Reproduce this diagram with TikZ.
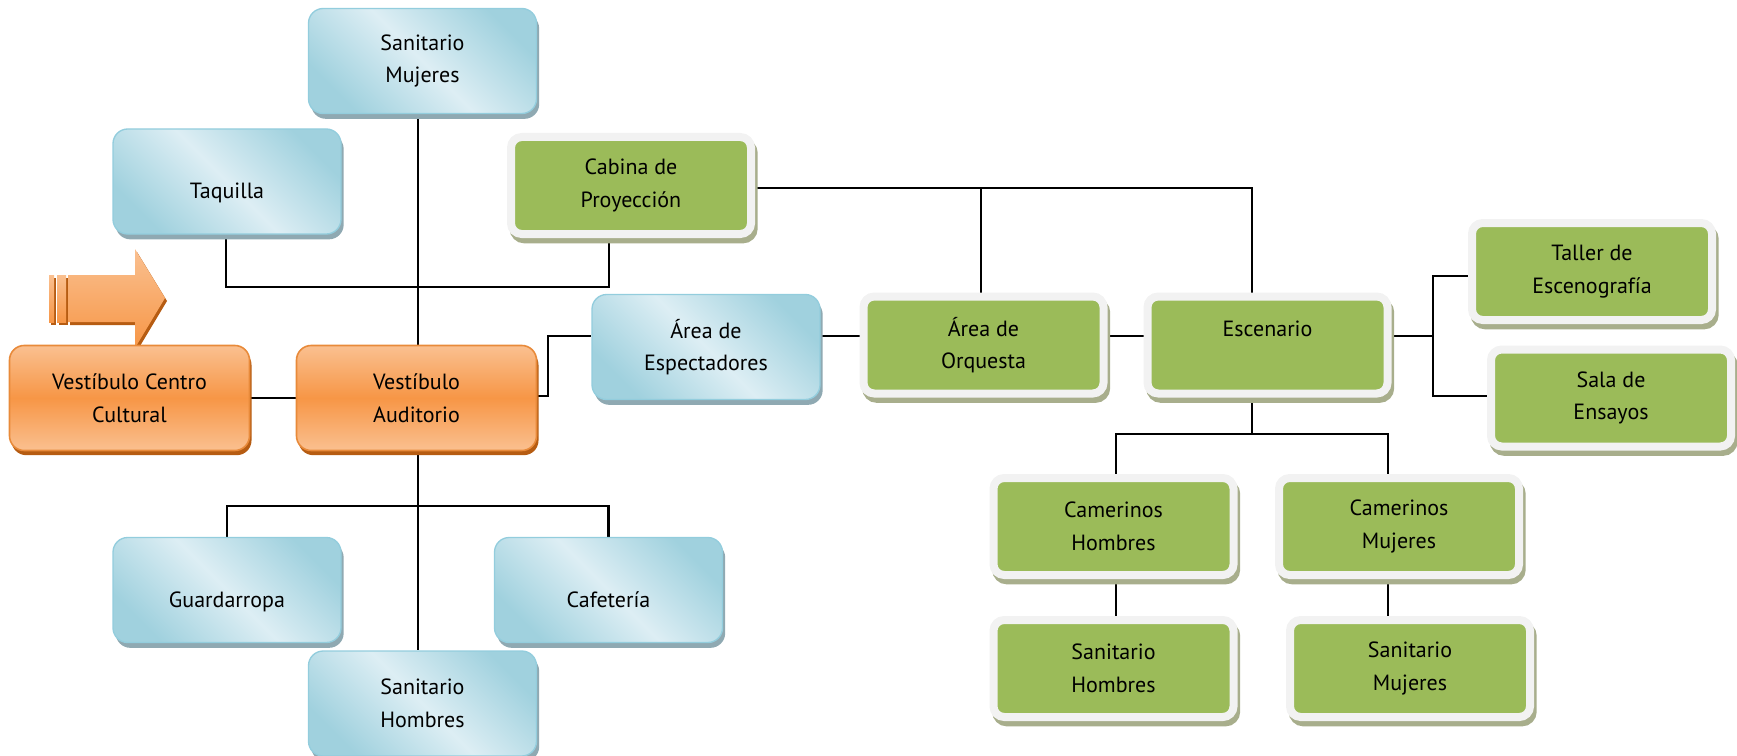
\documentclass[tikz,border=0pt]{standalone}
\usepackage{fontspec}
\setmainfont{PT Sans}
\usetikzlibrary{shadows}
\definecolor{bluelt}{HTML}{DDEEF4}
\definecolor{bluedk}{HTML}{A0D1DE}
\definecolor{bluebd}{HTML}{93CDDD}
\definecolor{blueshd}{HTML}{8FA9B2}
\definecolor{orlt}{HTML}{FAC090}
\definecolor{ormid}{HTML}{F79646}
\definecolor{orbd}{HTML}{E88A3A}
\definecolor{orshd}{HTML}{B65C12}
\definecolor{grn}{HTML}{9BBB59}
\definecolor{frm}{HTML}{F2F2F2}
\definecolor{gshd}{HTML}{A8AE8C}
\pgfdeclarelayer{bg}
\pgfsetlayers{bg,main}
\tikzset{
  box/.style={align=center, inner sep=2pt, font=\fontsize{16.5}{24.5}\selectfont},
  bluebox/.style={box, rounded corners=11pt, draw=bluebd, line width=1pt,
    top color=bluedk, bottom color=bluedk, middle color=bluelt, shading angle=-45,
    minimum width=171pt, minimum height=78.75pt,
    drop shadow={shadow xshift=2pt, shadow yshift=-4pt, fill=blueshd, opacity=1}},
  orangebox/.style={box, rounded corners=11pt, draw=orbd, line width=1.2pt,
    top color=orlt, bottom color=orlt, middle color=ormid,
    minimum width=180pt, minimum height=78.75pt,
    drop shadow={shadow xshift=1.5pt, shadow yshift=-3.5pt, fill=orshd, opacity=1}},
  greenbox/.style={box, rounded corners=8pt, fill=grn, draw=frm, line width=6pt,
    minimum width=180pt, minimum height=72.75pt,
    drop shadow={shadow xshift=2pt, shadow yshift=-4pt, fill=gshd, draw=gshd, line width=6pt, opacity=1}},
  lowtxt/.style={text height=26pt, text depth=0pt},
  link/.style={draw=black, line width=2.2pt},
}
\begin{document}
\begin{tikzpicture}[x=0.75pt,y=-0.75pt]
\useasboundingbox (0,0) rectangle (1737,756);
% arrow
\fill[orshd] (70,278) -- (137,278) -- (137,252) -- (167,301) -- (137,351) -- (137,325) -- (70,325) -- cycle;
\fill[orshd] (51,278) rectangle (56,325);
\fill[orshd] (59,278) rectangle (68,325);
\shade[top color=orlt, bottom color=ormid] (68,275) -- (135,275) -- (135,249) -- (165,298) -- (135,348) -- (135,322) -- (68,322) -- cycle;
\shade[top color=orlt, bottom color=ormid] (49,275) rectangle (54,322);
\shade[top color=orlt, bottom color=ormid] (57,275) rectangle (66,322);
% blue
\node[bluebox] (SMa) at (422.5,61) {Sanitario\\Mujeres};
\node[bluebox,lowtxt] (Taq) at (227,181.5) {Taquilla};
\node[bluebox] (Esp) at (706,347) {Área de\\Espectadores};
\node[bluebox,lowtxt] (Guard) at (227,590) {Guardarropa};
\node[bluebox,lowtxt] (Caf) at (608.5,590) {Cafetería};
\node[bluebox] (SHa) at (422.5,703.5) {Sanitario\\Hombres};
% orange
\node[orangebox] (VCC) at (129.5,398) {Vestíbulo Centro\\Cultural};
\node[orangebox] (VA) at (416.5,398) {Vestíbulo\\Auditorio};
% green
\node[greenbox] (Cab) at (631,185.5) {Cabina de\\Proyección};
\node[greenbox] (Orq) at (983.5,345) {Área de\\Orquesta};
\node[greenbox] (Esc) at (1267.5,345) {Escenario\\\mbox{}};
\node[greenbox] (Tal) at (1592,271.5) {Taller de\\Escenografía};
\node[greenbox] (Sala) at (1611,398) {Sala de\\Ensayos};
\node[greenbox] (CamH) at (1113.5,526.5) {Camerinos\\Hombres};
\node[greenbox] (CamM) at (1399,526.5) {Camerinos\\Mujeres};
\node[greenbox] (SHg) at (1113.5,668.5) {Sanitario\\Hombres};
\node[greenbox] (SMg) at (1410,668.5) {Sanitario\\Mujeres};
% helper coordinates
\coordinate (vx) at (418,0);
\coordinate (tj) at (226,287);
\coordinate (cj) at (609,287);
\coordinate (bj) at (0,506);
\coordinate (rowA) at (0,336);
\coordinate (ej) at (548,396);
\coordinate (topy) at (0,188);
\coordinate (ox) at (981,0);
\coordinate (sx) at (1252,0);
\coordinate (rj) at (1433,0);
\coordinate (ty) at (0,276);
\coordinate (sy) at (0,396);
\coordinate (cy) at (0,434);
\coordinate (hx) at (1116,0);
\coordinate (mx) at (1388,0);
\begin{pgfonlayer}{bg}
\draw[link] (SMa.south -| vx) -- (VA.north -| vx);
\draw[link] (VA.south -| vx) -- (SHa.north -| vx);
\draw[link] (Taq.south -| tj) -- (tj) -- (cj) -- (Cab.south -| cj);
\draw[link] (Guard.north) |- (Caf.north |- bj) -- (Caf.north);
\draw[link] (VCC.east) -- (VA.west);
\draw[link] (VA.east |- ej) -- (ej) |- (Esp.west |- rowA);
\draw[link] (Esp.east |- rowA) -- (Orq.west |- rowA);
\draw[link] (Orq.east |- rowA) -- (Esc.west |- rowA);
\draw[link] (Cab.east |- topy) -| (Esc.north -| sx);
\draw[link] (ox |- topy) -- (Orq.north -| ox);
\draw[link] (Esc.east |- rowA) -- (rj |- rowA);
\draw[link] (Tal.west |- ty) -| (rj |- sy) -- (Sala.west |- sy);
\draw[link] (Esc.south -| sx) -- (sx |- cy);
\draw[link] (CamH.north -| hx) |- (mx |- cy) -- (CamM.north -| mx);
\draw[link] (CamH.south -| hx) -- (SHg.north -| hx);
\draw[link] (CamM.south -| mx) -- (SMg.north -| mx);
\end{pgfonlayer}
\end{tikzpicture}
\end{document}
